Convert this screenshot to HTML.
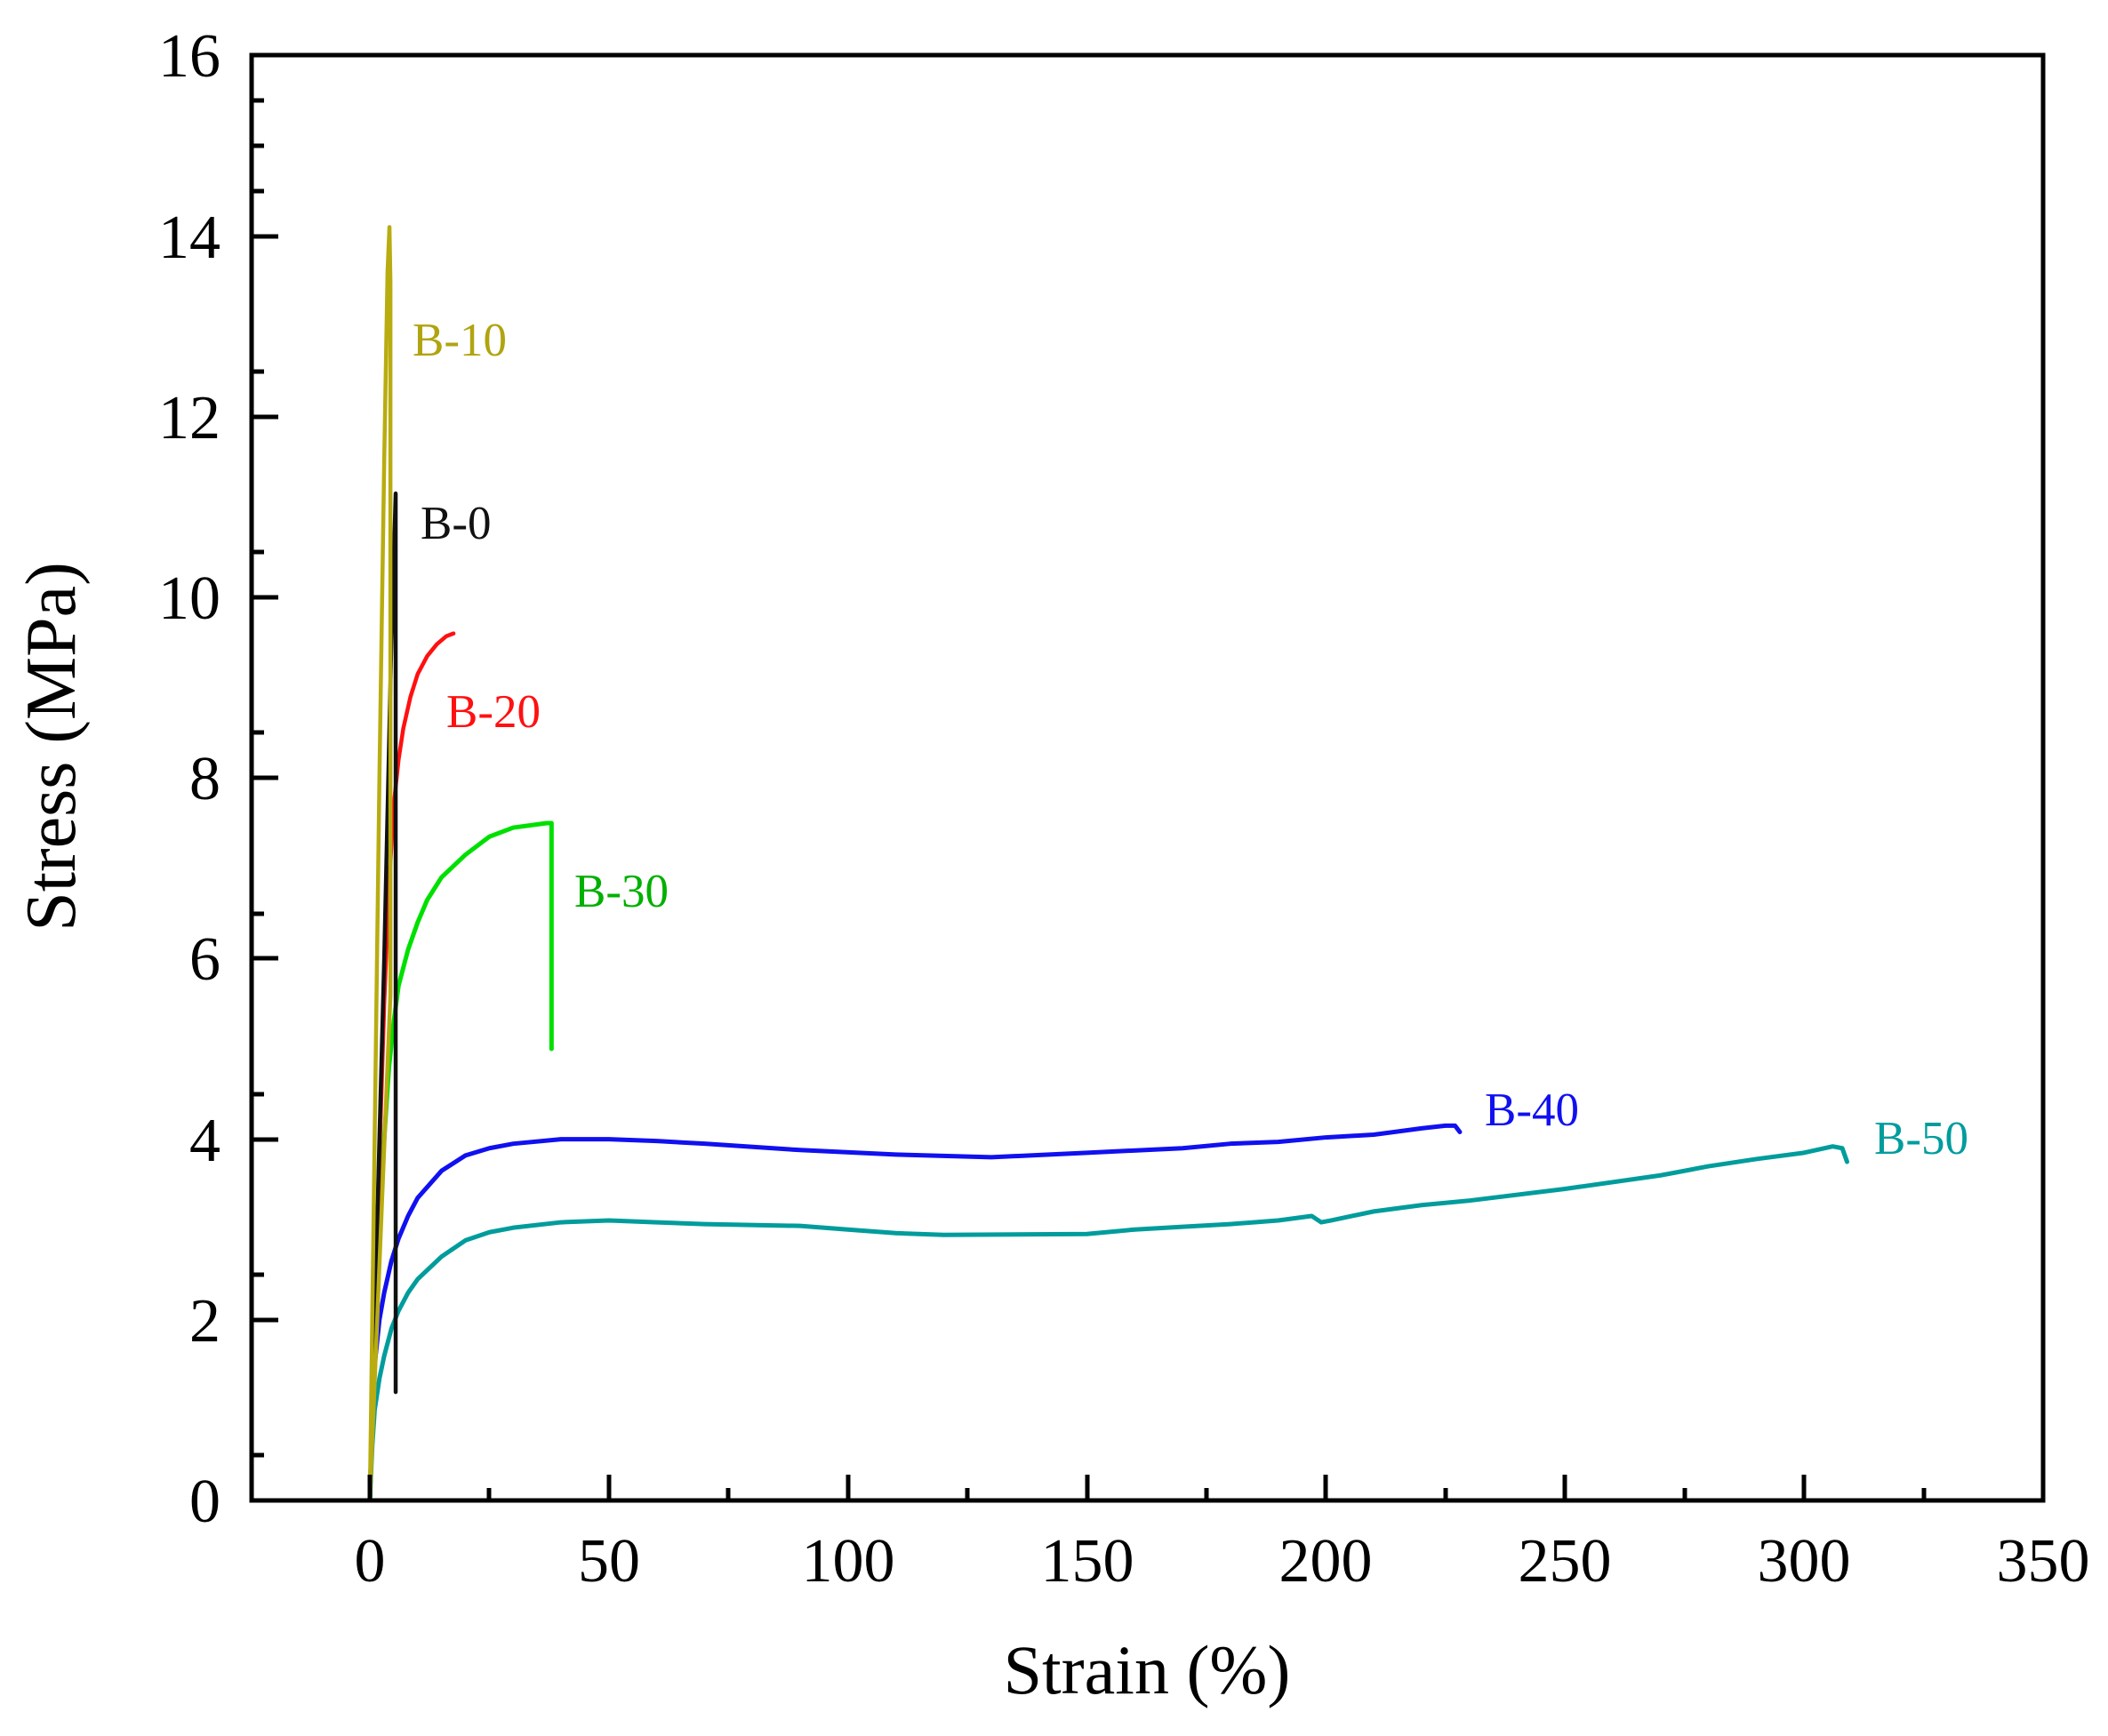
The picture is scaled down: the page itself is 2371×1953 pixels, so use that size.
<!DOCTYPE html>
<html><head><meta charset="utf-8"><style>
html,body{margin:0;padding:0;background:#fff;}
svg{display:block;}
text{font-family:"Liberation Serif",serif;}
</style></head><body>
<svg width="2371" height="1953" viewBox="0 0 2371 1953" xmlns="http://www.w3.org/2000/svg">
<rect width="2371" height="1953" fill="#fff"/>
<g transform="translate(416,1688) scale(5.377,-101.6)" fill="none" stroke-linejoin="round" stroke-linecap="round">
<polyline vector-effect="non-scaling-stroke" stroke="#009c9c" stroke-width="5" points="0,0 0.5,0.6 1,1 2,1.35 3,1.6 4.5,1.9 6,2.1 8,2.3 10,2.45 15,2.7 20,2.88 25,2.97 30,3.02 40,3.08 50,3.1 60,3.08 70,3.06 90,3.04 100,3.0 110,2.96 120,2.94 150,2.95 160,3.0 170,3.03 180,3.06 190,3.1 197,3.15 199,3.08 201,3.1 210,3.2 220,3.27 230,3.32 250,3.45 270,3.6 280,3.7 290,3.78 300,3.85 306,3.92 308,3.9 309,3.75"/>
<polyline vector-effect="non-scaling-stroke" stroke="#1010f0" stroke-width="5" points="0,0 0.5,1 1,1.5 2,2 3,2.3 4.5,2.65 6,2.9 8,3.15 10,3.35 15,3.65 20,3.82 25,3.9 30,3.95 40,4.0 50,4.0 60,3.98 70,3.95 90,3.88 110,3.83 130,3.8 150,3.85 170,3.9 180,3.95 190,3.97 200,4.02 210,4.05 220,4.12 225,4.15 227,4.15 228,4.08"/>
<polyline vector-effect="non-scaling-stroke" stroke="#00e000" stroke-width="5" points="0,0 1,1.8 2,3 3,4 4,4.8 5,5.3 6,5.7 8,6.1 10,6.4 12,6.65 15,6.9 18,7.05 20,7.15 25,7.35 30,7.45 37,7.5 38,7.5 38,5.0"/>
<polyline vector-effect="non-scaling-stroke" stroke="#ff1010" stroke-width="4.5" points="0,0 1,2 2,3.8 3,5.5 4,6.8 5,7.7 6,8.2 7,8.55 8.5,8.9 10,9.15 12,9.35 14,9.48 16,9.57 17.5,9.6"/>
<polyline vector-effect="non-scaling-stroke" stroke="#111" stroke-width="4.5" points="0,0 1.5,3 3,6 4.5,9.5 5.4,11.15 5.4,1.2"/>
<polyline vector-effect="non-scaling-stroke" stroke="#b8ac10" stroke-width="4.5" points="0,0 1,4 2,8 3,11.5 3.7,13.6 4.1,14.1 4.3,13.5 4.3,5.6 0,0"/>
</g>
<rect x="283" y="62" width="2015" height="1626" fill="none" stroke="#000" stroke-width="5"/>
<g stroke="#000" stroke-width="5">
<line x1="283" x2="313" y1="1688" y2="1688"/><line x1="283" x2="297" y1="1637" y2="1637"/>
<line x1="283" x2="313" y1="1485" y2="1485"/><line x1="283" x2="297" y1="1434" y2="1434"/>
<line x1="283" x2="313" y1="1282" y2="1282"/><line x1="283" x2="297" y1="1231" y2="1231"/>
<line x1="283" x2="313" y1="1078" y2="1078"/><line x1="283" x2="297" y1="1028" y2="1028"/>
<line x1="283" x2="313" y1="875" y2="875"/><line x1="283" x2="297" y1="824" y2="824"/>
<line x1="283" x2="313" y1="672" y2="672"/><line x1="283" x2="297" y1="621" y2="621"/>
<line x1="283" x2="313" y1="469" y2="469"/><line x1="283" x2="297" y1="418" y2="418"/>
<line x1="283" x2="313" y1="266" y2="266"/><line x1="283" x2="297" y1="215" y2="215"/>
<line x1="283" x2="297" y1="164" y2="164"/><line x1="283" x2="297" y1="113" y2="113"/>
<line x1="416" x2="416" y1="1688" y2="1659"/><line x1="550" x2="550" y1="1688" y2="1674"/>
<line x1="685" x2="685" y1="1688" y2="1659"/><line x1="819" x2="819" y1="1688" y2="1674"/>
<line x1="954" x2="954" y1="1688" y2="1659"/><line x1="1088" x2="1088" y1="1688" y2="1674"/>
<line x1="1223" x2="1223" y1="1688" y2="1659"/><line x1="1357" x2="1357" y1="1688" y2="1674"/>
<line x1="1491" x2="1491" y1="1688" y2="1659"/><line x1="1626" x2="1626" y1="1688" y2="1674"/>
<line x1="1760" x2="1760" y1="1688" y2="1659"/><line x1="1895" x2="1895" y1="1688" y2="1674"/>
<line x1="2029" x2="2029" y1="1688" y2="1659"/><line x1="2164" x2="2164" y1="1688" y2="1674"/>
</g>
<g font-size="70" text-anchor="end" fill="#000">
<text x="248" y="1712">0</text><text x="248" y="1509">2</text><text x="248" y="1306">4</text>
<text x="248" y="1102">6</text><text x="248" y="899">8</text><text x="248" y="696">10</text>
<text x="248" y="493">12</text><text x="248" y="290">14</text><text x="248" y="86">16</text>
</g>
<g font-size="70" text-anchor="middle" fill="#000">
<text x="416" y="1779">0</text><text x="685" y="1779">50</text><text x="954" y="1779">100</text>
<text x="1223" y="1779">150</text><text x="1491" y="1779">200</text><text x="1760" y="1779">250</text>
<text x="2029" y="1779">300</text><text x="2298" y="1779">350</text>
</g>
<text x="1290" y="1905" font-size="78" text-anchor="middle">Strain (%)</text>
<text transform="translate(84,840) rotate(-90)" font-size="80" text-anchor="middle">Stress (MPa)</text>
<g font-size="53">
<text x="464" y="400" fill="#b0a410">B-10</text>
<text x="473" y="606" fill="#111">B-0</text>
<text x="502" y="818" fill="#ff1010">B-20</text>
<text x="646" y="1020" fill="#00b000">B-30</text>
<text x="1670" y="1266" fill="#1010f0">B-40</text>
<text x="2108" y="1298" fill="#009c9c">B-50</text>
</g>
</svg>
</body></html>
